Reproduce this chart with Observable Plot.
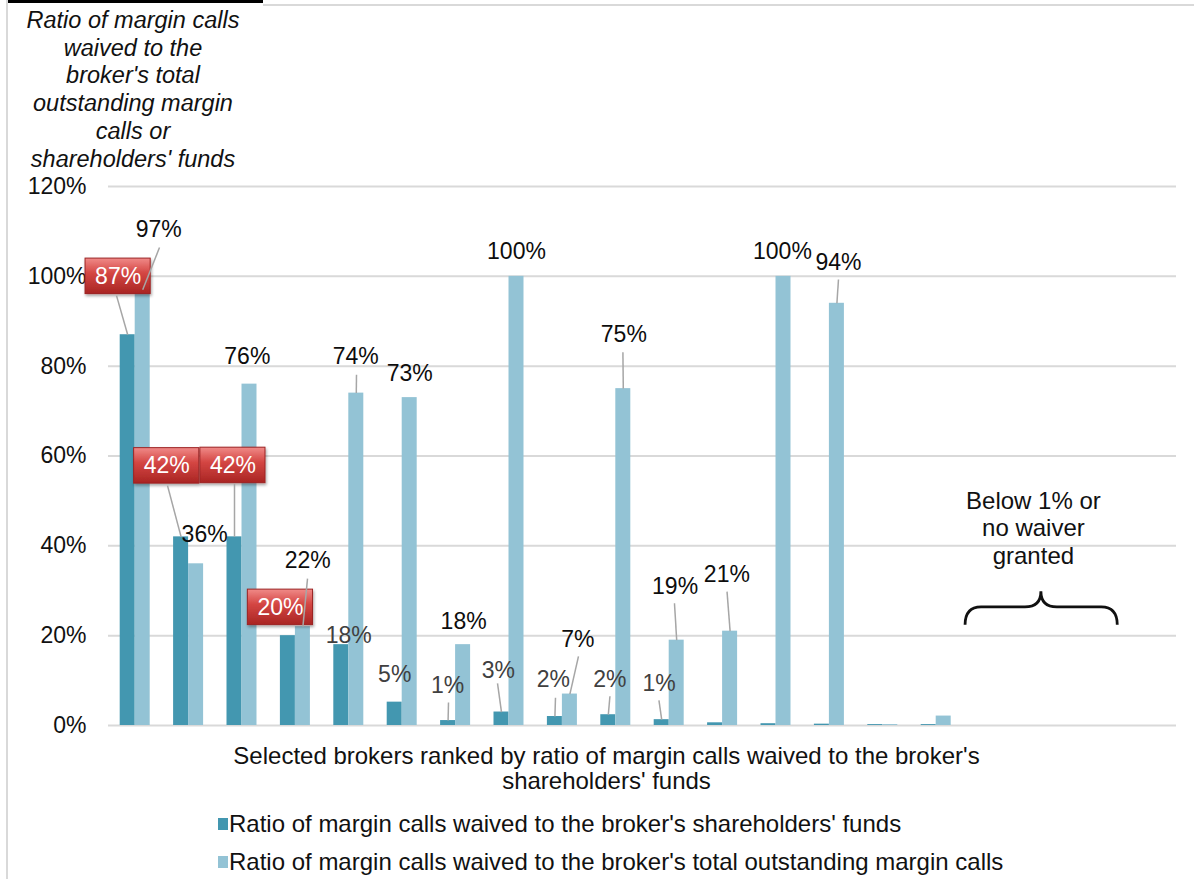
<!DOCTYPE html>
<html>
<head>
<meta charset="utf-8">
<script src="https://cdn.jsdelivr.net/npm/d3@7"></script>
<script src="https://cdn.jsdelivr.net/npm/@observablehq/plot@0.6"></script>
<style>
  body { margin: 0; background: #fff; font-family: "Liberation Sans", Arial, sans-serif; }
  #wrap { position: relative; width: 1194px; height: 879px; overflow: hidden; background: #fff; }
  #chart { position: absolute; left: 0; top: 0; }
  .abs { position: absolute; }
  #ytitle { left: 0; top: 7px; width: 266px; text-align: center; font-style: italic; font-size: 23.5px; line-height: 27.7px; color: #111; white-space: nowrap; }
  #xtitle { left: 0; top: 743px; width: 1213px; text-align: center; font-size: 24px; line-height: 25px; color: #111; white-space: nowrap; }
  .leg { left: 229px; font-size: 24px; line-height: 24px; color: #111; white-space: nowrap; }
  .sw { width: 10px; height: 12px; }
</style>
</head>
<body>
<div id="wrap">
  <div class="abs" style="left:7px;top:0;width:256px;height:3px;background:#000"></div>
  <div class="abs" style="left:263px;top:4px;width:931px;height:2px;background:#d9d9d9"></div>
  <div class="abs" style="left:6px;top:0;width:2px;height:879px;background:#d9d9d9"></div>
  <div id="chart"></div>
  <div id="ytitle" class="abs">Ratio of margin calls<br>waived to the<br>broker's total<br>outstanding margin<br>calls or<br>shareholders' funds</div>
  <div id="xtitle" class="abs">Selected brokers ranked by ratio of margin calls waived to the broker's<br>shareholders' funds</div>
  <div class="abs sw" id="sw0" style="left:218px;top:818px;"></div>
  <div class="abs leg" id="leg0" style="top:812px;"></div>
  <div class="abs sw" id="sw1" style="left:218px;top:856px;"></div>
  <div class="abs leg" id="leg1" style="top:850px;"></div>
</div>
<script>
// ---- data ----
const brokerRank = [1, 2, 3, 4, 5, 6, 7, 8, 9, 10, 11, 12, 13, 14, 15, 16, 17, 18, 19, 20];
const shareholdersFunds = [87, 42, 42, 20, 18, 5.2, 1.1, 3, 2, 2.4, 1.3, 0.6, 0.4, 0.3, 0.2, 0.2, 0, 0, 0, 0];
const outstandingCalls = [97, 36, 76, 22, 74, 73, 18, 100, 7, 75, 19, 21, 100, 94, 0.2, 2.1, 0, 0, 0, 0];
const seriesNames = [
  "Ratio of margin calls waived to the broker's shareholders' funds",
  "Ratio of margin calls waived to the broker's total outstanding margin calls"
];
const yTicks = [0, 20, 40, 60, 80, 100, 120];
const annotationText = "Below 1% or\nno waiver\ngranted";

// ---- layout (label placement in data units) ----
const colors = ["#4397B0", "#93C3D5"];
const labelLayout = [
  {b: 1, s: 1, lx: 1.44, ly: 110.4, ex: 1.455, ey: 106.4},
  {b: 1, s: 0, lx: 0.68, ly: 100.0, ex: 0.65, ey: 95.7, box: true},
  {b: 2, s: 0, lx: 1.59, ly: 57.8, ex: 1.605, ey: 53.4, box: true},
  {b: 3, s: 0, lx: 2.83, ly: 57.9, ex: 2.86, ey: 53.9, box: true},
  {b: 2, s: 1, lx: 2.30, ly: 42.5},
  {b: 3, s: 1, lx: 3.10, ly: 82.2},
  {b: 4, s: 0, lx: 3.72, ly: 26.3, box: true},
  {b: 4, s: 1, lx: 4.23, ly: 36.7, ex: 4.227, ey: 32.7},
  {b: 5, s: 0, lx: 5.00, ly: 20.0},
  {b: 5, s: 1, lx: 5.13, ly: 82.2, ex: 5.144, ey: 78.1},
  {b: 6, s: 1, lx: 6.14, ly: 78.4},
  {b: 6, s: 0, lx: 5.86, ly: 11.4},
  {b: 7, s: 0, lx: 6.85, ly: 8.9, ex: 6.867, ey: 5.1},
  {b: 7, s: 1, lx: 7.15, ly: 23.2},
  {b: 8, s: 0, lx: 7.80, ly: 12.2, ex: 7.785, ey: 9.4},
  {b: 8, s: 1, lx: 8.14, ly: 105.5},
  {b: 9, s: 0, lx: 8.83, ly: 10.2, ex: 8.871, ey: 6.2},
  {b: 9, s: 1, lx: 9.29, ly: 19.1, ex: 9.301, ey: 15.4},
  {b: 10, s: 0, lx: 9.89, ly: 10.2, ex: 9.89, ey: 6.5},
  {b: 10, s: 1, lx: 10.15, ly: 87.0, ex: 10.133, ey: 83.1},
  {b: 11, s: 0, lx: 10.81, ly: 9.4, ex: 10.808, ey: 5.6},
  {b: 11, s: 1, lx: 11.11, ly: 30.9, ex: 11.099, ey: 27.2},
  {b: 12, s: 1, lx: 12.08, ly: 33.6, ex: 12.083, ey: 29.8},
  {b: 13, s: 1, lx: 13.12, ly: 105.5},
  {b: 14, s: 1, lx: 14.17, ly: 103.1, ex: 14.17, ey: 99.3}
];
const annotation = {tx: 17.82, ty: 44.1, bx1: 16.55, bx2: 19.40, bxc: 17.97, yArm: 22.3, yMid: 26.3, yTop: 29.8};

const HALF = 0.2809;
const series = [shareholdersFunds, outstandingCalls];
const val = d => series[d.s][d.b - 1];
const barCenter = d => d.b + (d.s === 0 ? -HALF / 2 : HALF / 2);

const barsFor = s => brokerRank.map((b, i) => ({b, v: series[s][i]})).filter(d => d.v > 0);

const fontFamily = "'Liberation Sans', Arial, sans-serif";

function braceMark(index, scales) {
  const x = scales.x, y = scales.y;
  const x1 = x(annotation.bx1), x2 = x(annotation.bx2), xc = x(annotation.bxc);
  const ya = y(annotation.yArm), ym = y(annotation.yMid), yt = y(annotation.yTop);
  const r = 16;
  const d = `M${x1},${ya} Q${x1},${ym} ${x1 + r},${ym} L${xc - r},${ym} Q${xc},${ym} ${xc},${yt} Q${xc},${ym} ${xc + r},${ym} L${x2 - r},${ym} Q${x2},${ym} ${x2},${ya}`;
  const p = document.createElementNS("http://www.w3.org/2000/svg", "path");
  p.setAttribute("d", d);
  p.setAttribute("fill", "none");
  p.setAttribute("stroke", "#111");
  p.setAttribute("stroke-width", "2.8");
  return p;
}

const boxes = labelLayout.filter(d => d.box);
const plain = labelLayout.filter(d => !d.box);

const chart = Plot.plot({
  width: 1194,
  height: 740,
  marginTop: 186,
  marginBottom: 15,
  marginLeft: 108,
  marginRight: 18,
  style: {fontFamily, background: "transparent", overflow: "visible"},
  x: {domain: [0.5, 20.5], axis: null},
  y: {domain: [0, 120], axis: null},
  marks: [
    Plot.gridY(yTicks, {stroke: "#d9d9d9", strokeOpacity: 1, strokeWidth: 2}),
    Plot.axisY(yTicks, {tickSize: 0, tickPadding: 22, tickFormat: d => d + "%", fontSize: 23, fill: "#111", label: null}),
    Plot.rectY(barsFor(0), {x1: d => d.b - HALF, x2: d => d.b, y1: 0, y2: "v", fill: colors[0]}),
    Plot.rectY(barsFor(1), {x1: d => d.b, x2: d => d.b + HALF, y1: 0, y2: "v", fill: colors[1]}),
    Plot.rect(boxes, {x1: d => d.lx - 0.61, x2: d => d.lx + 0.61, y1: d => d.ly - 3.95, y2: d => d.ly + 3.95,
      fill: "url(#redGrad)", stroke: "#9c2424", strokeWidth: 1}),
    Plot.link(labelLayout.filter(d => d.ex != null), {x1: barCenter, y1: val, x2: "ex", y2: "ey", stroke: "#a6a6a6", strokeWidth: 1.5}),
    Plot.text(plain.filter(d => d.s === 1), {x: "lx", y: "ly", text: d => Math.round(val(d)) + "%", fill: "#0d0d0d", fontSize: 23}),
    Plot.text(plain.filter(d => d.s === 0), {x: "lx", y: "ly", text: d => Math.round(val(d)) + "%", fill: "#404040", fontSize: 23}),
    Plot.text(boxes, {x: "lx", y: "ly", text: d => Math.round(val(d)) + "%", fill: "#ffffff", fontSize: 23}),
    Plot.text([annotation], {x: "tx", y: "ty", text: () => annotationText, fill: "#111", fontSize: 24, lineHeight: 1.15}),
    braceMark
  ]
});

chart.insertAdjacentHTML("afterbegin", `<defs>
  <linearGradient id="redGrad" x1="0" y1="0" x2="0" y2="1">
    <stop offset="0" stop-color="#f08a88"/>
    <stop offset="0.42" stop-color="#d44643"/>
    <stop offset="1" stop-color="#a92523"/>
  </linearGradient>
  <filter id="shadow" x="-20%" y="-20%" width="140%" height="160%">
    <feDropShadow dx="1" dy="2" stdDeviation="1.5" flood-color="#000" flood-opacity="0.35"/>
  </filter>
</defs>`);
chart.querySelectorAll('[fill="url(#redGrad)"]').forEach(el => el.setAttribute("filter", "url(#shadow)"));

document.getElementById("chart").appendChild(chart);
document.getElementById("sw0").style.background = colors[0];
document.getElementById("sw1").style.background = colors[1];
document.getElementById("leg0").textContent = seriesNames[0];
document.getElementById("leg1").textContent = seriesNames[1];
</script>
</body>
</html>
